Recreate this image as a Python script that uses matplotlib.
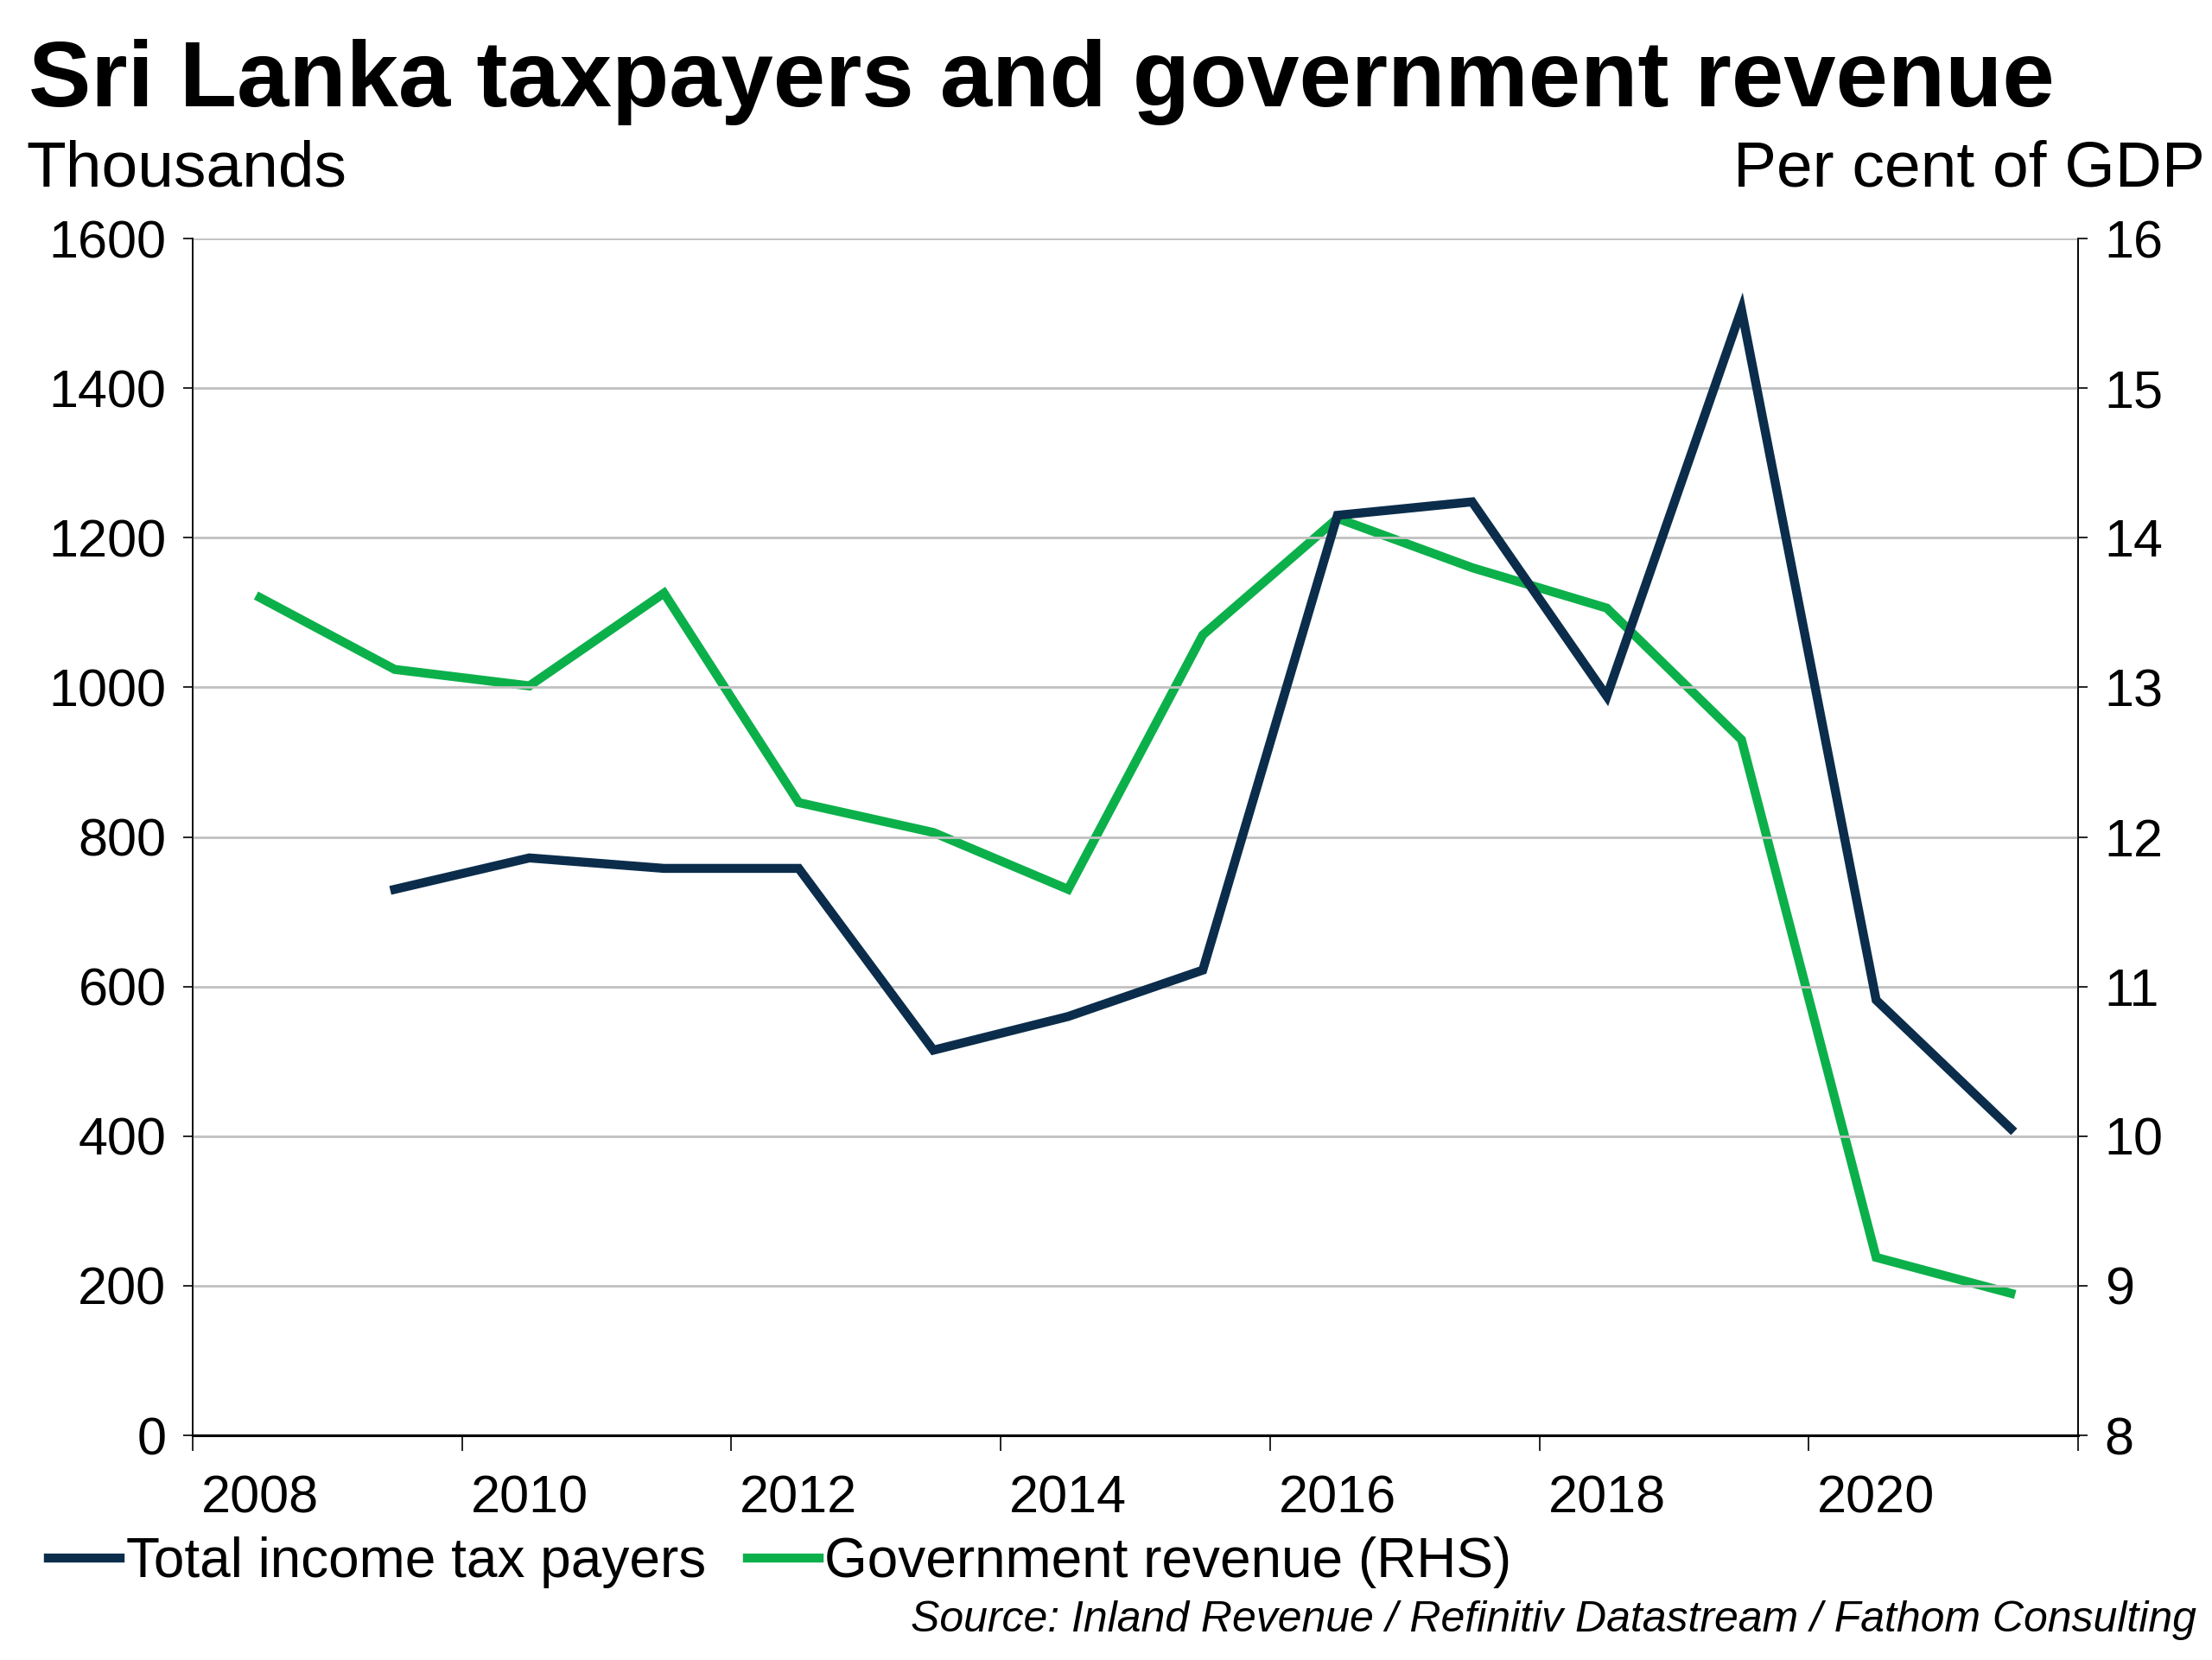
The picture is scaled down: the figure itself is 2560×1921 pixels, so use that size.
import matplotlib.pyplot as plt
import numpy as np

plt.rcParams['font.family'] = ['Liberation Sans', 'DejaVu Sans']

# data
years_tax = [2009, 2010, 2011, 2012, 2013, 2014, 2015, 2016, 2017, 2018, 2019, 2020, 2021]
taxpayers = [730, 772, 758, 758, 515, 560, 622, 1230, 1248, 988, 1505, 582, 410]

years_rev = [2008, 2009, 2010, 2011, 2012, 2013, 2014, 2015, 2016, 2017, 2018, 2019, 2020, 2021]
revenue = [13.6, 13.12, 13.01, 13.63, 12.23, 12.03, 11.65, 13.35, 14.13, 13.8, 13.53, 12.65, 9.19, 8.95]

navy = '#0b2d4b'
green = '#0cb04a'

fig = plt.figure(figsize=(25.6, 19.21), dpi=100)
ax = fig.add_axes([0.0871, 0.1353, 0.8524, 0.7210])
ax2 = ax.twinx()

ax.plot(np.array(years_tax) + 0.5, taxpayers, color=navy, lw=7.5, solid_joinstyle='miter', zorder=3)
ax2.plot(np.array(years_rev) + 0.5, revenue, color=green, lw=7.5, solid_joinstyle='miter', zorder=2)

ax.set_xlim(2008, 2022)
ax.set_ylim(0, 1600)
ax2.set_ylim(8, 16)
ax.set_yticks(range(0, 1601, 200))
ax2.set_yticks(range(8, 17))

ax.set_zorder(ax2.get_zorder() + 1)
ax.patch.set_visible(False)

ax.grid(axis='y', color='#c0c0c0', lw=2, zorder=0)
ax.set_axisbelow(True)

ax.set_xticks(range(2008, 2023, 2))
ax.set_xticklabels([])
ax.set_xticks(np.arange(2008.5, 2021, 2), minor=True)
ax.set_xticklabels([str(y) for y in range(2008, 2021, 2)], minor=True)
ax.tick_params(axis='x', which='major', length=13, width=1.2, direction='out')
ax.tick_params(axis='x', which='minor', length=0, labelsize=44, pad=33)
ax.tick_params(axis='y', length=8, width=1.2, labelsize=44, pad=14)
ax2.tick_params(axis='y', length=8, width=1.2, labelsize=44, pad=14)

for a in (ax, ax2):
    a.spines['top'].set_visible(False)
    a.spines['left'].set_linewidth(1.2)
    a.spines['right'].set_linewidth(1.2)
    a.spines['bottom'].set_linewidth(2.2)

fig.text(0.013, 0.936, 'Sri Lanka taxpayers and government revenue', fontsize=78,
         fontweight='bold', va='baseline', ha='left')
fig.text(0.012, 0.888, 'Thousands', fontsize=54, va='baseline', ha='left')
fig.text(0.997, 0.888, 'Per cent of GDP', fontsize=54, va='baseline', ha='right')

ax.plot([], [], color=navy, lw=7.5, label='Total income tax payers')
ax.plot([], [], color=green, lw=7.5, label='Government revenue (RHS)')
ax.legend(loc='upper left', bbox_to_anchor=(0.012, 0.0875), bbox_transform=fig.transFigure,
          frameon=False, fontsize=46, handlelength=1.3, handletextpad=0.1,
          columnspacing=0.75, ncol=2, borderaxespad=0)

fig.text(0.993, 0.012, 'Source: Inland Revenue / Refinitiv Datastream / Fathom Consulting',
         fontsize=36, style='italic', ha='right', va='bottom')

fig.savefig('out.png', dpi=100)
